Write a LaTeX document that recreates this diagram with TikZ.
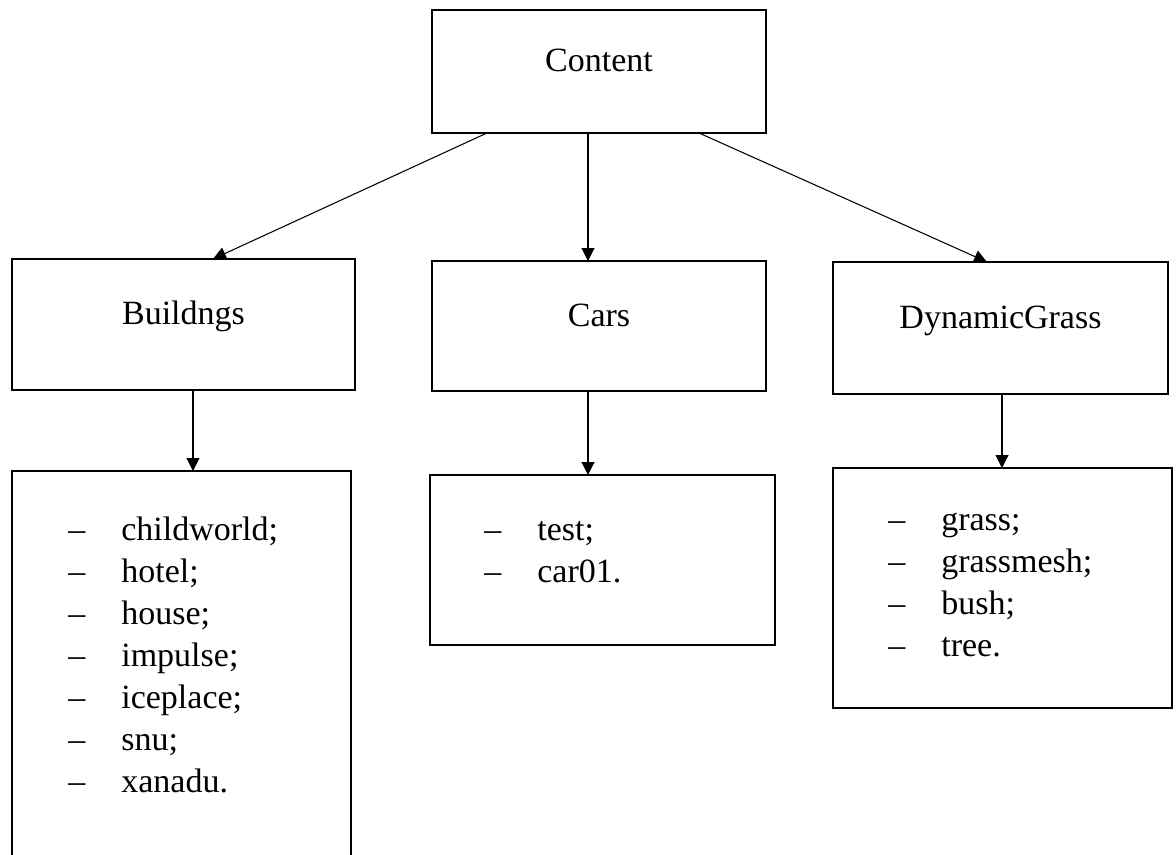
\documentclass[tikz,border=0pt]{standalone}
\usepackage{fontspec}
\setmainfont{Liberation Serif}
\usetikzlibrary{positioning,arrows.meta}

\begin{document}
\begin{tikzpicture}[>={Triangle[length=0.26cm,width=0.26cm]},
    font=\fontsize{0.68cm}{0.84cm}\selectfont,
    folder/.style={rectangle, draw=black, line width=1.1pt, inner sep=0pt, outer sep=0pt, text height=0.4cm, text depth=0.4cm},
    listbox/.style={rectangle, draw=black, line width=1.1pt, inner sep=0pt, outer sep=0pt},
    listtext/.style={inner sep=0pt, anchor=north west},
    arrow/.style={->, line width=0.6pt}]
    \useasboundingbox (0,0) rectangle (23.52,-17.08);

    % Root folder
    \node [folder, minimum width=6.68cm, minimum height=2.46cm] (content) at (11.98,-1.43) {Content};

    % Sub folders
    \node [folder, minimum width=6.68cm, minimum height=2.60cm, below=2.56cm of content] (cars) {Cars};
    \node [folder, minimum width=6.86cm, minimum height=2.62cm, left=1.54cm of cars, yshift=0.03cm] (build) {Buildngs};
    \node [folder, minimum width=6.70cm, minimum height=2.64cm, right=1.34cm of cars, yshift=-0.04cm] (grass) {DynamicGrass};

    % Folder contents
    \node [listbox, minimum width=6.78cm, minimum height=8.4cm, below=1.62cm of build, xshift=-0.04cm] (buildlist) {};
    \node [listbox, minimum width=6.90cm, minimum height=3.40cm, below=1.68cm of cars, xshift=0.07cm] (carslist) {};
    \node [listbox, minimum width=6.78cm, minimum height=4.80cm, below=1.48cm of grass, xshift=0.04cm] (grasslist) {};

    \node [listtext, below right=0.79cm and 1.12cm of buildlist.north west] (buildtext) {%
        \begin{tabular}{@{}p{1.06cm}@{}l@{}}
        \textendash & childworld; \\
        \textendash & hotel; \\
        \textendash & house; \\
        \textendash & impulse; \\
        \textendash & iceplace; \\
        \textendash & snu; \\
        \textendash & xanadu.
        \end{tabular}};
    \node [listtext, below right=0.71cm and 1.08cm of carslist.north west] (carstext) {%
        \begin{tabular}{@{}p{1.06cm}@{}l@{}}
        \textendash & test; \\
        \textendash & car01.
        \end{tabular}};
    \node [listtext, below right=0.65cm and 1.10cm of grasslist.north west] (grasstext) {%
        \begin{tabular}{@{}p{1.06cm}@{}l@{}}
        \textendash & grass; \\
        \textendash & grassmesh; \\
        \textendash & bush; \\
        \textendash & tree.
        \end{tabular}};

    % Arrows from root to sub folders
    \draw [arrow] ([xshift=-2.24cm]content.south) -- ([xshift=0.59cm]build.north);
    \draw [arrow] ([xshift=-0.22cm]content.south) -- ([xshift=-0.22cm]cars.north);
    \draw [arrow] ([xshift=2.0cm]content.south) -- ([xshift=-0.27cm]grass.north);

    % Arrows from sub folders to contents
    \draw [arrow] ([xshift=0.19cm]build.south) -- ([xshift=0.19cm]build.south |- buildlist.north);
    \draw [arrow] ([xshift=-0.22cm]cars.south) -- ([xshift=-0.22cm]cars.south |- carslist.north);
    \draw [arrow] ([xshift=0.03cm]grass.south) -- ([xshift=0.03cm]grass.south |- grasslist.north);
\end{tikzpicture}
\end{document}
